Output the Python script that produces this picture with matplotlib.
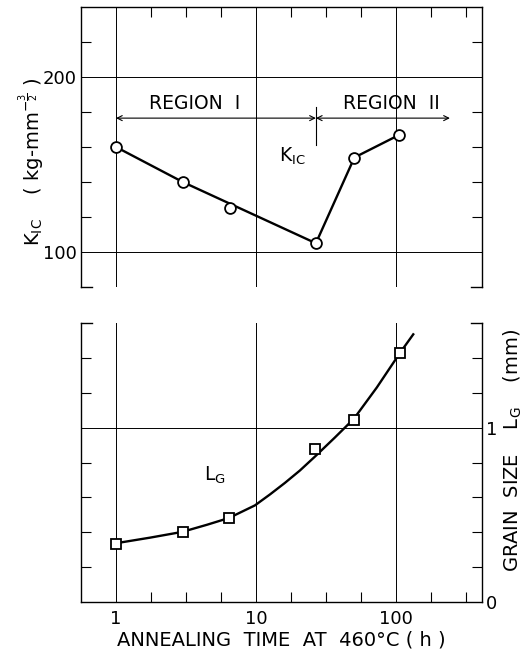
# K_IC and grain size vs annealing time
import matplotlib
matplotlib.use('Agg')
import matplotlib.pyplot as plt
from matplotlib.ticker import FixedLocator, NullFormatter

# fracture toughness data (open circles)
time_kic = [1, 3.0, 6.5, 26.8, 50.5, 106]
kic = [160, 140, 125, 105, 154, 167]
kic_line_idx = [0, 1, 3, 4, 5]   # line skips the 3rd point

# grain size data (open squares)
time_lg = [1, 3.0, 6.4, 26.4, 50.4, 107]
lg = [0.335, 0.40, 0.48, 0.88, 1.045, 1.43]

# smooth curve through grain size
curve_t = [1, 1.75, 2.97, 4.47, 6.42, 9.83, 12.6, 16.1, 20.6, 26.4, 36.6, 50.1, 73, 107, 133]
curve_lg = [0.337, 0.369, 0.402, 0.443, 0.482, 0.554, 0.617, 0.683, 0.754, 0.834, 0.943,
            1.051, 1.230, 1.429, 1.535]

x_ticks = [1, 10, 100]
x_labels = ['1', '10', '100']
x_minor = [10 ** (k / 4) for k in [1, 2, 3, 5, 6, 7, 9, 10]]

plt.rcParams['font.family'] = 'DejaVu Sans'
plt.rcParams['mathtext.fontset'] = 'dejavusans'

W, H = 523, 651
fig = plt.figure(figsize=(W / 100, H / 100), dpi=100)
ax1 = fig.add_axes([81 / W, 1 - 287 / H, 401 / W, 280 / H])
ax2 = fig.add_axes([81 / W, 1 - 602 / H, 401 / W, 279 / H])

for ax in (ax1, ax2):
    ax.set_xscale('log')
    ax.set_xlim(10 ** -0.25, 10 ** 2.615)
    ax.xaxis.set_major_locator(FixedLocator(x_ticks))
    ax.xaxis.set_minor_locator(FixedLocator(x_minor))
    ax.xaxis.set_minor_formatter(NullFormatter())
    ax.grid(True, which='major', color='black', linewidth=0.7)
    ax.tick_params(which='both', direction='in', width=0.8, color='black')
    ax.tick_params(which='minor', length=7)
    ax.tick_params(which='major', length=0)
    for s in ax.spines.values():
        s.set_linewidth(1.0)

# ---- top panel: K_IC ----
ax1.set_ylim(80, 240)
ax1.yaxis.set_major_locator(FixedLocator([100, 200]))
ax1.yaxis.set_minor_locator(FixedLocator([120, 140, 160, 180, 220]))
ax1.tick_params(axis='x', which='both', bottom=False, top=True, labelbottom=False)
ax1.tick_params(axis='y', which='both', left=True, right=True, labelsize=13, pad=3)
ax1.spines['bottom'].set_visible(False)
for xs in ([0, 0.027], [0.973, 1]):
    ax1.plot(xs, [0, 0], transform=ax1.transAxes, color='black', lw=1.0, clip_on=False)

ax1.plot([time_kic[i] for i in kic_line_idx], [kic[i] for i in kic_line_idx],
         color='black', lw=1.7, zorder=3)
ax1.plot(time_kic, kic, 'o', ms=7.8, mfc='white', mec='black', mew=1.3, zorder=4)

ax1.annotate('', xy=(1, 176.5), xytext=(26.8, 176.5),
             arrowprops=dict(arrowstyle='<->', lw=0.8, color='black',
                             shrinkA=0, shrinkB=0, mutation_scale=9))
ax1.annotate('', xy=(26.8, 176.5), xytext=(243, 176.5),
             arrowprops=dict(arrowstyle='<->', lw=0.8, color='black',
                             shrinkA=0, shrinkB=0, mutation_scale=9))
ax1.plot([26.8, 26.8], [161.3, 183], color='black', lw=0.8)
ax1.text(3.64, 179.5, 'REGION  I', ha='center', va='bottom', fontsize=13.5)
ax1.text(93, 179.5, 'REGION  II', ha='center', va='bottom', fontsize=13.5)
ax1.text(14.6, 151.5, r'K$_{\rm IC}$', ha='left', va='baseline', fontsize=13.5)

# ---- bottom panel: grain size ----
ax2.set_ylim(0, 1.6)
ax2.yaxis.set_major_locator(FixedLocator([0, 1]))
ax2.yaxis.set_minor_locator(FixedLocator([0.2, 0.4, 0.6, 0.8, 1.2, 1.4]))
ax2.set_yticklabels(['0', '1'])
ax2.set_xticklabels(x_labels)
ax2.tick_params(axis='x', which='both', bottom=True, top=False, labelsize=13, pad=6)
ax2.tick_params(axis='y', which='both', left=True, right=True,
                labelleft=False, labelright=True, labelsize=13, pad=3)
ax2.spines['top'].set_visible(False)
for xs in ([0, 0.027], [0.973, 1]):
    ax2.plot(xs, [1, 1], transform=ax2.transAxes, color='black', lw=1.0, clip_on=False)

ax2.plot(curve_t, curve_lg, color='black', lw=1.7, zorder=3)
ax2.plot(time_lg, lg, 's', ms=7.8, mfc='white', mec='black', mew=1.3, zorder=4)
ax2.text(4.25, 0.697, r'L$_{\rm G}$', ha='left', va='baseline', fontsize=13.5)

# axis titles
fig.text(281.5 / W, 1 - 640 / H, 'ANNEALING  TIME  AT  460°C ( h )',
         ha='center', va='center', fontsize=14)
fig.text(32 / W, 1 - 162 / H, r'K$_{\rm IC}$    ( kg-mm$^{-\frac{3}{2}}$ )',
         ha='center', va='center', rotation=90, fontsize=14)
fig.text(513 / W, 1 - 450 / H, r'GRAIN  SIZE    L$_{\rm G}$    (mm)',
         ha='center', va='center', rotation=90, fontsize=14)

plt.savefig('out.png', dpi=100, facecolor='white')
